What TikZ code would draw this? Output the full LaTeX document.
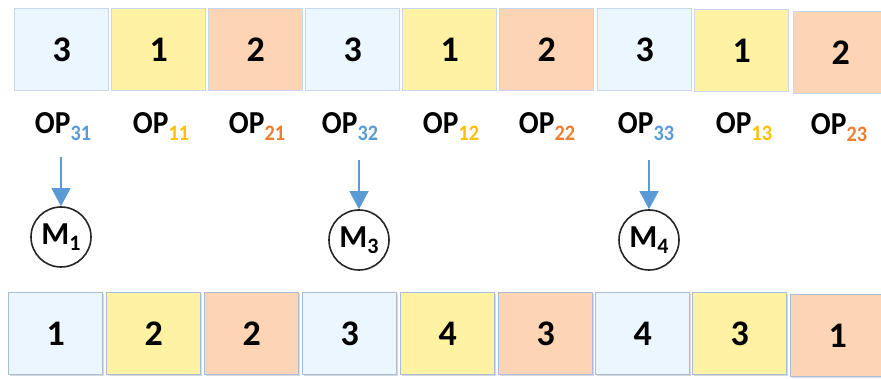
\documentclass[tikz,border=0pt]{standalone}
\usepackage{fontspec}
\usepackage{graphicx}
\setmainfont{Carlito}
\usetikzlibrary{arrows.meta,shadows}
\definecolor{bfill}{HTML}{EBF6FF}
\definecolor{yfill}{HTML}{FFF2A3}
\definecolor{ofill}{HTML}{FDD5B5}
\definecolor{bedge}{HTML}{C6D7EF}
\definecolor{bedgeb}{HTML}{A9BCD9}
\definecolor{sb}{HTML}{5B9BD5}
\definecolor{sy}{HTML}{FFC000}
\definecolor{so}{HTML}{ED7D31}
\newcommand\oplab[2]{\scalebox{0.92}[1]{OP\raisebox{-7pt}{\fontsize{22}{22}\selectfont\color{#1}#2}}}
\newcommand\mlab[1]{M\raisebox{-6pt}{\fontsize{22}{22}\selectfont #1}}
\begin{document}
\begin{tikzpicture}[x=1pt,y=-1pt,
  cell/.style={line width=1.3pt, minimum width=94pt, minimum height=82pt, inner sep=0pt,
    anchor=north west, font=\bfseries\fontsize{36}{36}\selectfont},
  topcell/.style={cell, draw=bedge},
  botcell/.style={cell, draw=bedgeb, drop shadow={shadow xshift=1.2pt, shadow yshift=-1.5pt, opacity=0.3}},
  oplabel/.style={font=\bfseries\fontsize{32}{32}\selectfont, inner sep=0pt},
  mach/.style={circle, draw=black!85, line width=1.6pt, fill=white, minimum size=60pt, inner sep=0pt,
    font=\bfseries\fontsize{32}{32}\selectfont},
  arr/.style={draw=sb, line width=1.3pt, -{Triangle[width=19pt,length=18pt]}}
]
\useasboundingbox (0,0) rectangle (881,379);
\clip (0,0) rectangle (881,379);
% top row
\node[topcell, fill=bfill] (t1) at (14,8) {3};
\node[topcell, fill=yfill] (t2) at (111,8) {1};
\node[topcell, fill=ofill] (t3) at (208,8) {2};
\node[topcell, fill=bfill] (t4) at (305,8) {3};
\node[topcell, fill=yfill] (t5) at (402,8) {1};
\node[topcell, fill=ofill] (t6) at (499,8) {2};
\node[topcell, fill=bfill] (t7) at (597,8) {3};
\node[topcell, fill=yfill] (t8) at (694,9) {1};
\node[topcell, fill=ofill] (t9) at (793,11) {2};
% labels
\node[oplabel] (o1) at (63,127) {\oplab{sb}{31}};
\node[oplabel] (o2) at (161,127) {\oplab{sy}{11}};
\node[oplabel] (o3) at (257,127) {\oplab{so}{21}};
\node[oplabel] (o4) at (350,127) {\oplab{sb}{32}};
\node[oplabel] (o5) at (451,127) {\oplab{sy}{12}};
\node[oplabel] (o6) at (547,127) {\oplab{so}{22}};
\node[oplabel] (o7) at (646,127) {\oplab{sb}{33}};
\node[oplabel] (o8) at (744,127) {\oplab{sy}{13}};
\node[oplabel] (o9) at (839,128) {\oplab{so}{23}};
% machines
\node[mach] (m1) at (61,237) {\mlab{1}};
\node[mach] (m3) at (359,240) {\mlab{3}};
\node[mach] (m4) at (649,240) {\mlab{4}};
\coordinate (a1) at (61,157);
\coordinate (a3) at (359,160);
\coordinate (a4) at (649,160);
\draw[arr] (a1) -- (m1.north);
\draw[arr] (a3) -- (m3.north);
\draw[arr] (a4) -- (m4.north);
% bottom row
\node[botcell, fill=bfill] (b1) at (8,292) {1};
\node[botcell, fill=yfill] (b2) at (106,292) {2};
\node[botcell, fill=ofill] (b3) at (204,292) {2};
\node[botcell, fill=bfill] (b4) at (302,292) {3};
\node[botcell, fill=yfill] (b5) at (400,292) {4};
\node[botcell, fill=ofill] (b6) at (498,292) {3};
\node[botcell, fill=bfill] (b7) at (595,292) {4};
\node[botcell, fill=yfill] (b8) at (692,292) {3};
\node[botcell, fill=ofill] (b9) at (790,294) {1};
\end{tikzpicture}
\end{document}
